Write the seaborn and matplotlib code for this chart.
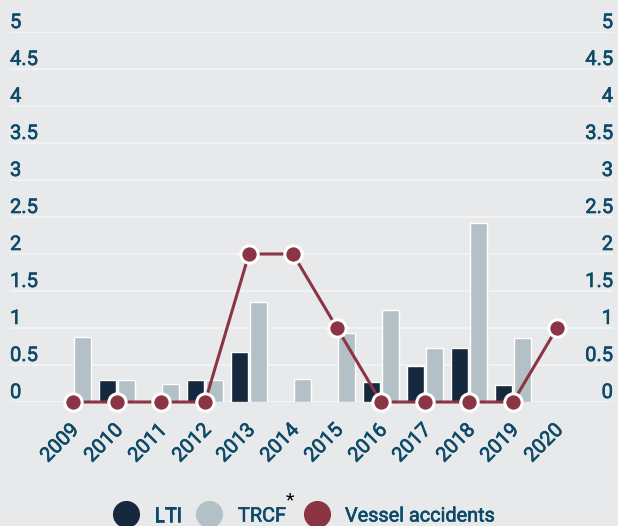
import matplotlib
matplotlib.use("Agg")
import matplotlib.pyplot as plt
import matplotlib.transforms as mtransforms
import matplotlib.patheffects as pe
from matplotlib.lines import Line2D
import seaborn as sns
import pandas as pd
import numpy as np

years = ["2009", "2010", "2011", "2012", "2013", "2014", "2015", "2016", "2017", "2018", "2019", "2020"]
lti = [0, 0.3, 0, 0.3, 0.67, 0, 0, 0.27, 0.49, 0.73, 0.23, 0]
trcf = [0.88, 0.3, 0.24, 0.3, 1.35, 0.31, 0.93, 1.25, 0.73, 2.42, 0.86, 0]
vessel = [0, 0, 0, 0, 2, 2, 1, 0, 0, 0, 0, 1]
yticks = [0, 0.5, 1, 1.5, 2, 2.5, 3, 3.5, 4, 4.5, 5]
ytick_labels = ["0", "0.5", "1", "1.5", "2", "2.5", "3", "3.5", "4", "4.5", "5"]

BG = "#e8e9eb"
GRID = "#f1f2f3"
C_LTI = "#15283d"
C_TRCF = "#b3c0c6"
C_VES = "#8b3443"
TXT = "#0d4a68"
FS = 14.5
PE = [pe.withStroke(linewidth=0.45, foreground=TXT)]

sns.set_theme(style="white")
plt.rcParams["font.family"] = ["Roboto", "DejaVu Sans"]

df = pd.DataFrame({
    "year": years * 2,
    "value": lti + trcf,
    "series": ["LTI"] * len(years) + ["TRCF"] * len(years),
})
dv = pd.DataFrame({"year": years, "value": vessel})

W, H = 618, 526
fig = plt.figure(figsize=(W / 100, H / 100), dpi=100, facecolor=BG)
y0, y5 = 402, 32
ax = fig.add_axes([10 / W, (H - y0) / H, 603 / W, (y0 - y5) / H])
ax.set_facecolor(BG)

sns.barplot(data=df, x="year", y="value", hue="series", order=years,
            hue_order=["LTI", "TRCF"], palette=[C_LTI, C_TRCF],
            width=0.9, gap=0.15, legend=False, ax=ax, saturation=1,
            zorder=2, errorbar=None)
sns.pointplot(data=dv, x="year", y="value", order=years, color=C_VES, ax=ax,
              markers="o", markersize=12.5, markeredgecolor="white",
              markeredgewidth=2.2, linewidth=2.2, errorbar=None)
for ln in ax.lines:
    ln.set_clip_on(False)
    ln.set_zorder(5)
for coll in ax.collections:
    coll.set_clip_on(False)
    coll.set_zorder(5)

ax.set_ylim(0, 5)
xl = lambda px: (px - 73) / 44
ax.set_xlim(xl(10), xl(613))

for v in yticks:
    ax.axhline(v, color=GRID, lw=1.5, zorder=0)

ax.set_yticks([])
ax.set_xlabel("")
ax.set_ylabel("")
for s in ax.spines.values():
    s.set_visible(False)

# y labels above the gridlines, both sides
for v, lab in zip(yticks, ytick_labels):
    ax.text(0, v, lab, transform=ax.get_yaxis_transform(), ha="left", va="bottom",
            fontsize=FS, color=TXT, path_effects=PE)
    ax.text(1, v, lab, transform=ax.get_yaxis_transform(), ha="right", va="bottom",
            fontsize=FS, color=TXT, path_effects=PE)

ax.tick_params(axis="x", length=0, pad=18)
ax.set_xticks(range(len(years)))
ax.set_xticklabels(years, rotation=45, ha="right", va="center", rotation_mode="anchor",
                   fontsize=FS, color=TXT)
off = mtransforms.ScaledTranslation(3 / 100, 0, fig.dpi_scale_trans)
for t in ax.get_xticklabels():
    t.set_transform(t.get_transform() + off)
    t.set_path_effects(PE)

# legend drawn manually
ly = (H - 514) / H
for cx, col, tx, lab in [(126, C_LTI, 154, "LTI"), (209, C_TRCF, 238, "TRCF"),
                         (317, C_VES, 345, "Vessel accidents")]:
    fig.add_artist(Line2D([cx / W], [ly], marker="o", markersize=19.5, color=col,
                          markeredgewidth=0, transform=fig.transFigure))
    fig.text(tx / W, ly, lab, ha="left", va="center_baseline", fontsize=14.3,
             color=TXT, path_effects=PE)
fig.text(290 / W, (H - 500) / H, "*", ha="center", va="center", fontsize=14, color="black")

fig.savefig("out.png", dpi=100, facecolor=BG)
